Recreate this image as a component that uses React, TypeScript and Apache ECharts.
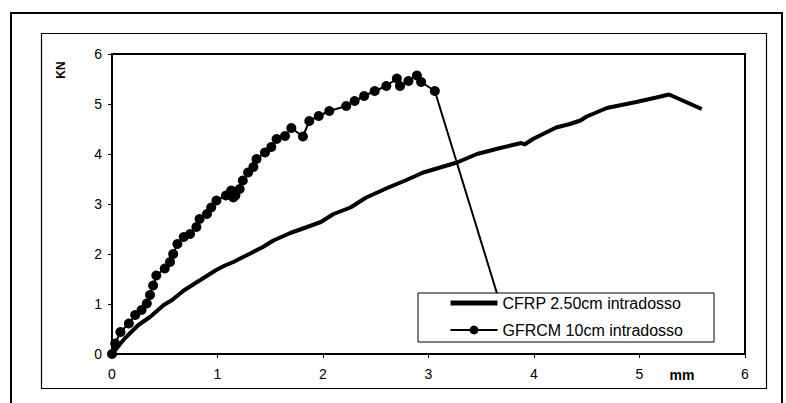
import React, { useEffect, useRef } from "react";
import * as echarts from "echarts";

const cfrpName = "CFRP 2.50cm intradosso";
const gfrcmName = "GFRCM 10cm intradosso";

const cfrpX = [0, 0.12, 0.25, 0.36, 0.49, 0.57, 0.68, 0.83, 0.98, 1.07, 1.15, 1.31, 1.43, 1.53, 1.69, 1.85, 1.98, 2.1, 2.26, 2.41, 2.62, 2.78, 2.95, 3.11, 3.27, 3.46, 3.68, 3.84, 3.88, 3.91, 3.99, 4.21, 4.34, 4.44, 4.5, 4.69, 4.97, 5.16, 5.28, 5.59];
const cfrpY = [0, 0.31, 0.58, 0.74, 0.98, 1.08, 1.27, 1.47, 1.67, 1.77, 1.84, 2.01, 2.14, 2.27, 2.42, 2.54, 2.64, 2.8, 2.93, 3.13, 3.33, 3.47, 3.63, 3.73, 3.83, 4.0, 4.12, 4.2, 4.22, 4.19, 4.3, 4.53, 4.6, 4.67, 4.75, 4.92, 5.04, 5.13, 5.19, 4.9];

const gfrcmX = [0, 0.03, 0.08, 0.16, 0.22, 0.28, 0.33, 0.36, 0.39, 0.42, 0.5, 0.55, 0.58, 0.62, 0.68, 0.74, 0.8, 0.83, 0.9, 0.94, 0.99, 1.08, 1.13, 1.15, 1.17, 1.21, 1.24, 1.29, 1.34, 1.37, 1.45, 1.51, 1.56, 1.64, 1.7, 1.81, 1.87, 1.96, 2.06, 2.22, 2.3, 2.39, 2.49, 2.6, 2.7, 2.73, 2.81, 2.89, 2.93, 3.06, 3.76];
const gfrcmY = [0, 0.21, 0.44, 0.61, 0.78, 0.88, 1.01, 1.18, 1.37, 1.57, 1.71, 1.84, 2.0, 2.2, 2.34, 2.4, 2.54, 2.7, 2.8, 2.93, 3.07, 3.17, 3.27, 3.13, 3.17, 3.3, 3.47, 3.63, 3.74, 3.9, 4.03, 4.14, 4.3, 4.36, 4.52, 4.35, 4.66, 4.76, 4.86, 4.96, 5.06, 5.16, 5.26, 5.36, 5.51, 5.36, 5.46, 5.57, 5.44, 5.26, 0.45];

const xTicks = [0, 1, 2, 3, 4, 5, 6];
const yTicks = [0, 1, 2, 3, 4, 5, 6];

const FONT = "'Liberation Sans', Arial, sans-serif";

export default function App() {
  const ref = useRef<HTMLDivElement>(null);
  useEffect(() => {
    if (!ref.current) return;
    const chart = echarts.init(ref.current, undefined, { renderer: "svg" });
    const cfrp = cfrpX.map((x, i) => [x, cfrpY[i]]);
    const gfrcm = gfrcmX.map((x, i) => [x, gfrcmY[i]]);
    chart.setOption({
      animation: false,
      backgroundColor: "#fff",
      textStyle: { fontFamily: FONT },
      grid: {
        left: 112,
        right: 41,
        top: 54,
        bottom: 49,
        show: true,
        borderColor: "#000",
        borderWidth: 2,
        backgroundColor: "#fff",
      },
      xAxis: {
        type: "value",
        min: xTicks[0],
        max: xTicks[xTicks.length - 1],
        interval: 1,
        splitLine: { show: false },
        axisLine: { show: true, lineStyle: { color: "#000", width: 2 } },
        axisTick: { show: true, inside: false, length: 4, lineStyle: { color: "#000", width: 1 } },
        axisLabel: { color: "#000", fontSize: 14, margin: 13, fontFamily: FONT },
      },
      yAxis: {
        type: "value",
        min: yTicks[0],
        max: yTicks[yTicks.length - 1],
        interval: 1,
        splitLine: { show: false },
        axisLine: { show: true, lineStyle: { color: "#000", width: 2 } },
        axisTick: { show: true, inside: false, length: 4, lineStyle: { color: "#000", width: 1 } },
        axisLabel: { color: "#000", fontSize: 14, margin: 10, fontFamily: FONT },
      },
      legend: {
        orient: "vertical",
        left: 418,
        top: 293,
        itemWidth: 47,
        itemHeight: 11,
        itemGap: 11,
        padding: [2, 31, 4, 30],
        backgroundColor: "#fff",
        borderColor: "#000",
        borderWidth: 1,
        borderRadius: 0,
        textStyle: { color: "#000", fontSize: 16, fontFamily: FONT },
        data: [
          {
            name: cfrpName,
            itemStyle: { opacity: 0, borderWidth: 0 },
            lineStyle: { width: 5, color: "#000" },
          },
          {
            name: gfrcmName,
            lineStyle: { width: 2, color: "#000" },
          },
        ],
      },
      series: [
        {
          name: cfrpName,
          type: "line",
          data: cfrp,
          showSymbol: false,
          symbol: "none",
          lineStyle: { color: "#000", width: 4 },
          itemStyle: { color: "#000" },
          z: 3,
        },
        {
          name: gfrcmName,
          type: "line",
          data: gfrcm,
          symbol: "circle",
          symbolSize: 10,
          lineStyle: { color: "#000", width: 2 },
          itemStyle: { color: "#000" },
          z: 3,
        },
      ],
      graphic: [
        {
          type: "rect",
          shape: { x: 11, y: 13, width: 771, height: 400 },
          style: { fill: "none", stroke: "#000", lineWidth: 2 },
          silent: true,
          z: -10,
        },
        {
          type: "rect",
          shape: { x: 41.5, y: 33.5, width: 725, height: 355 },
          style: { fill: "none", stroke: "#000", lineWidth: 1.2 },
          silent: true,
          z: -10,
        },
        {
          type: "text",
          x: 61,
          y: 70,
          rotation: Math.PI / 2,
          style: {
            text: "KN",
            font: "bold 12px " + FONT,
            fill: "#000",
            textAlign: "center",
            textVerticalAlign: "middle",
          },
        },
        {
          type: "text",
          x: 682,
          y: 375,
          style: {
            text: "mm",
            font: "bold 14px " + FONT,
            fill: "#000",
            textAlign: "center",
            textVerticalAlign: "middle",
          },
        },
      ],
    });
    return () => chart.dispose();
  }, []);
  return (
    <div
      ref={ref}
      style={{ position: "fixed", left: 0, top: 0, width: 786, height: 403 }}
    />
  );
}
